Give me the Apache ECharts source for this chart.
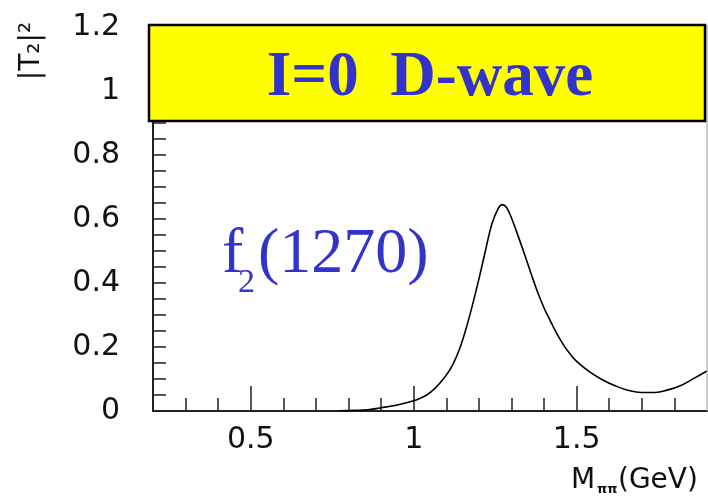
<!DOCTYPE html>
<html><head><meta charset="utf-8">
<script src="https://cdn.jsdelivr.net/npm/echarts@6/dist/echarts.min.js"></script>
<style>html,body{margin:0;padding:0;background:#fff}#c{width:708px;height:501px}</style>
</head><body><div id="c"></div>
<script>
// Data
const massGeV = [0.77, 0.82, 0.86, 0.90, 0.95, 1.00, 1.02, 1.04, 1.06, 1.08, 1.10, 1.12, 1.14, 1.16, 1.18, 1.20, 1.22, 1.24, 1.26, 1.272, 1.285, 1.30, 1.32, 1.34, 1.36, 1.38, 1.40, 1.42, 1.44, 1.46, 1.48, 1.50, 1.54, 1.58, 1.62, 1.66, 1.70, 1.74, 1.78, 1.82, 1.86, 1.90];
const t2Sq = [0.001, 0.002, 0.004, 0.010, 0.019, 0.032, 0.040, 0.050, 0.066, 0.087, 0.112, 0.145, 0.192, 0.255, 0.330, 0.412, 0.500, 0.585, 0.634, 0.645, 0.636, 0.603, 0.548, 0.490, 0.430, 0.372, 0.322, 0.280, 0.240, 0.206, 0.178, 0.155, 0.122, 0.097, 0.078, 0.064, 0.058, 0.058, 0.066, 0.080, 0.102, 0.125];
const xMajorTicks = [0.5, 1, 1.5];
const xMinorTicks = [0.3, 0.4, 0.6, 0.7, 0.8, 0.9, 1.1, 1.2, 1.3, 1.4, 1.6, 1.7, 1.8];
const yLabelTicks = [0, 0.2, 0.4, 0.6, 0.8, 1, 1.2];
const titleText = 'I=0  D-wave';
const resonanceName = 'f';
const resonanceSub = '2';
const resonanceMass = '(1270)';
const yTitle = '|T\u2082|\u00b2';

const chart = echarts.init(document.getElementById('c'), null, {renderer: 'canvas'});
const blue = '#3333cc';
const axisColor = '#222';
const labelFont = {fontFamily: 'DejaVu Sans', fontSize: 30, color: '#111'};

chart.setOption({
  animation: false,
  backgroundColor: '#fff',
  grid: {left: 153, right: 1, top: 27, bottom: 90, containLabel: false},
  xAxis: [{
    type: 'value', min: 0.2, max: 1.9, position: 'bottom',
    axisLine: {show: true, lineStyle: {color: axisColor, width: 2}},
    axisTick: {show: true, inside: true, length: 13, customValues: xMinorTicks, lineStyle: {color: axisColor, width: 1.5}},
    axisLabel: {show: false},
    splitLine: {show: false}
  }, {
    type: 'value', min: 0.2, max: 1.9, position: 'bottom',
    axisLine: {show: false},
    axisTick: {show: true, inside: true, length: 25, customValues: xMajorTicks, lineStyle: {color: axisColor, width: 1.5}},
    axisLabel: Object.assign({show: true, margin: 14, customValues: xMajorTicks}, labelFont),
    splitLine: {show: false}
  }],
  yAxis: [{
    type: 'value', min: 0, max: 1.2, interval: 0.05,
    axisLine: {show: true, lineStyle: {color: axisColor, width: 2}},
    axisTick: {show: true, inside: true, length: 13, lineStyle: {color: axisColor, width: 1.5}},
    axisLabel: Object.assign({show: true, margin: 33, customValues: yLabelTicks,
      formatter: v => String(Math.round(v * 100) / 100)}, labelFont),
    splitLine: {show: false}
  }],
  series: [{
    type: 'line', xAxisIndex: 0, yAxisIndex: 0,
    data: massGeV.map((m, i) => [m, t2Sq[i]]),
    showSymbol: false, smooth: 0.4,
    lineStyle: {color: '#000', width: 1.6}
  }],
  graphic: [
    {type: 'line', z: 90, shape: {x1: 707, y1: 25, x2: 707, y2: 411}, style: {stroke: '#999', lineWidth: 1}},
    {type: 'rect', z: 100, shape: {x: 149, y: 25, width: 556, height: 96}, style: {fill: '#ffff00', stroke: '#000', lineWidth: 2.5}},
    {type: 'text', z: 101, x: 430, y: 79, style: {text: titleText, font: 'bold 63px "Liberation Serif"', fill: blue, textAlign: 'center', textVerticalAlign: 'middle', align: 'center', verticalAlign: 'middle'}},
    {type: 'text', z: 101, x: 222, y: 255, style: {text: resonanceName, font: '64px "Liberation Serif"', fill: blue, textAlign: 'left', textVerticalAlign: 'middle', align: 'left', verticalAlign: 'middle'}},
    {type: 'text', z: 101, x: 238, y: 283, style: {text: resonanceSub, font: '34px "Liberation Serif"', fill: blue, textAlign: 'left', textVerticalAlign: 'middle', align: 'left', verticalAlign: 'middle'}},
    {type: 'text', z: 101, x: 258, y: 255, style: {text: resonanceMass, font: '64px "Liberation Serif"', fill: blue, textAlign: 'left', textVerticalAlign: 'middle', align: 'left', verticalAlign: 'middle'}},
    {type: 'text', z: 101, x: 32, y: 51, rotation: Math.PI / 2, style: {text: yTitle, font: '28px "DejaVu Sans"', fill: '#111', textAlign: 'center', textVerticalAlign: 'middle', align: 'center', verticalAlign: 'middle'}},
    {type: 'text', z: 101, x: 571, y: 481, style: {text: 'M', font: '28px "DejaVu Sans"', fill: '#111', textAlign: 'left', textVerticalAlign: 'middle', align: 'left', verticalAlign: 'middle'}},
    {type: 'text', z: 101, x: 597, y: 490, style: {text: '\u03c0\u03c0', font: 'bold 13px "DejaVu Sans"', fill: '#111', textAlign: 'left', textVerticalAlign: 'middle', align: 'left', verticalAlign: 'middle'}},
    {type: 'text', z: 101, x: 618, y: 481, style: {text: '(GeV)', font: '28px "DejaVu Sans"', fill: '#111', textAlign: 'left', textVerticalAlign: 'middle', align: 'left', verticalAlign: 'middle'}}
  ]
});
</script></body></html>
